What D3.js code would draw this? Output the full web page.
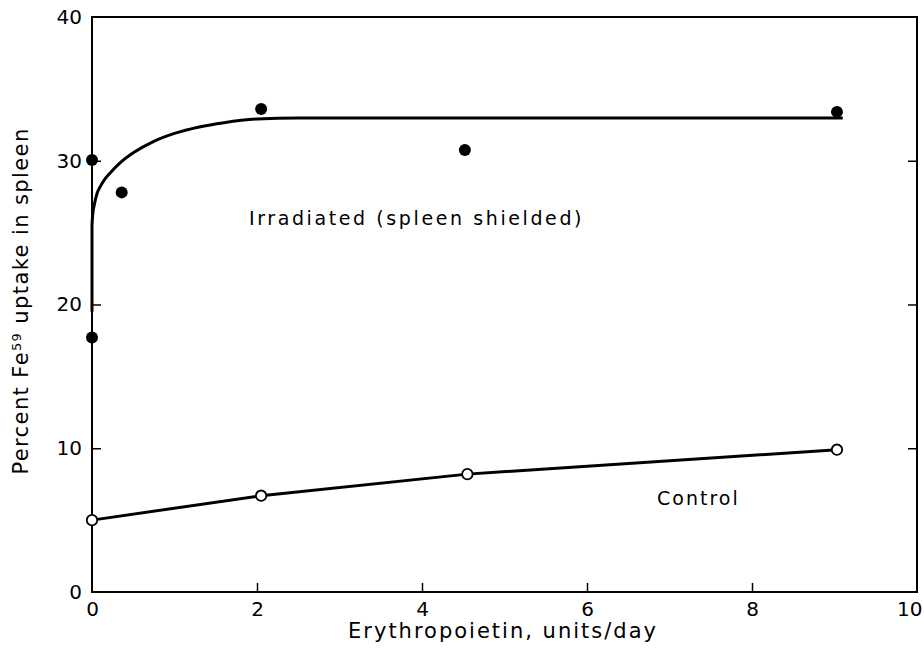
<!DOCTYPE html>
<html>
<head>
<meta charset="utf-8">
<script src="https://cdn.jsdelivr.net/npm/d3@7"></script>
<style>
  html, body { margin: 0; padding: 0; background: #fff; }
  svg text { font-family: "DejaVu Sans", "Open Sans", sans-serif; fill: #000; }
</style>
</head>
<body>
<svg id="chart" width="924" height="660"></svg>
<script>
// ---- data ----
const xTicks = [0, 2, 4, 6, 8, 10];
const yTicks = [0, 10, 20, 30, 40];

const irradiatedX = [0, 0, 0.36, 2.05, 4.52, 9.03];
const irradiatedY = [30.05, 17.7, 27.8, 33.6, 30.75, 33.4];

const controlX = [0, 2.05, 4.55, 9.03];
const controlY = [5.0, 6.7, 8.2, 9.9];

const curveX = [0, 0, 0.01, 0.03, 0.06, 0.1, 0.16, 0.22, 0.34, 0.5, 0.75, 1.0, 1.3, 1.6, 2.0, 2.5, 9.1];
const curveY = [19.5, 25.5, 26.3, 27.0, 27.7, 28.2, 28.75, 29.15, 29.85, 30.55, 31.35, 31.9, 32.35, 32.65, 32.9, 32.98, 32.98];

const xLabel = "Erythropoietin, units/day";
const yLabelMain = "Percent Fe";
const yLabelSup = "59";
const yLabelRest = " uptake in spleen";
const irradiatedLabel = "Irradiated (spleen shielded)";
const controlLabel = "Control";

// ---- layout ----
const svg = d3.select("#chart");
const x = d3.scaleLinear().domain([0, 10]).range([92, 917]);
const y = d3.scaleLinear().domain([0, 40]).range([592, 17]);

// frame
svg.append("rect")
  .attr("x", x(0)).attr("y", y(40))
  .attr("width", x(10) - x(0)).attr("height", y(0) - y(40))
  .attr("fill", "none").attr("stroke", "#000").attr("stroke-width", 2);

// bottom axis: inward ticks
const xAxis = d3.axisBottom(x).tickValues(xTicks).tickSizeInner(-9).tickSizeOuter(0).tickPadding(18).tickFormat(d3.format("d"));
const gx = svg.append("g").attr("transform", `translate(0,${y(0)})`).call(xAxis);
gx.select(".domain").remove();
gx.selectAll(".tick line").attr("stroke", "#000").attr("stroke-width", 1.5)
  .attr("display", d => (d === 0 || d === 10) ? "none" : null);
gx.selectAll(".tick text").attr("font-size", 20).attr("dy", "0.3em")
  .attr("text-anchor", d => d === 10 ? "end" : "middle")
  .attr("dx", d => d === 10 ? 5 : 0);

// left axis: inward ticks
const yAxis = d3.axisLeft(y).tickValues(yTicks).tickSizeInner(-9).tickSizeOuter(0).tickPadding(10).tickFormat(d3.format("d"));
const gy = svg.append("g").attr("transform", `translate(${x(0)},0)`).call(yAxis);
gy.select(".domain").remove();
gy.selectAll(".tick line").attr("stroke", "#000").attr("stroke-width", 1.5)
  .attr("display", d => (d === 0 || d === 40) ? "none" : null);
gy.selectAll(".tick text").attr("font-size", 20);

// right axis: inward ticks, no labels
const yAxisR = d3.axisRight(y).tickValues(yTicks).tickSizeInner(-9).tickSizeOuter(0).tickFormat("");
const gyr = svg.append("g").attr("transform", `translate(${x(10)},0)`).call(yAxisR);
gyr.select(".domain").remove();
gyr.selectAll(".tick line").attr("stroke", "#000").attr("stroke-width", 1.5)
  .attr("display", d => (d === 0 || d === 40) ? "none" : null);

// fitted curve (irradiated)
const curvePts = curveX.map((v, i) => [v, curveY[i]]);
svg.append("path")
  .datum(curvePts)
  .attr("d", d3.line().x(d => x(d[0])).y(d => y(d[1])).curve(d3.curveMonotoneX))
  .attr("fill", "none").attr("stroke", "#000").attr("stroke-width", 3);

// control line
const ctrlPts = controlX.map((v, i) => [v, controlY[i]]);
svg.append("path")
  .datum(ctrlPts)
  .attr("d", d3.line().x(d => x(d[0])).y(d => y(d[1])))
  .attr("fill", "none").attr("stroke", "#000").attr("stroke-width", 3);

// irradiated points (filled)
svg.append("g").selectAll("circle")
  .data(irradiatedX.map((v, i) => [v, irradiatedY[i]]))
  .join("circle")
  .attr("cx", d => x(d[0])).attr("cy", d => y(d[1])).attr("r", 6)
  .attr("fill", "#000");

// control points (open)
svg.append("g").selectAll("circle")
  .data(ctrlPts)
  .join("circle")
  .attr("cx", d => x(d[0])).attr("cy", d => y(d[1])).attr("r", 5.2)
  .attr("fill", "#fff").attr("stroke", "#000").attr("stroke-width", 1.8);

// annotations
svg.append("text").attr("x", 249).attr("y", 225)
  .attr("font-size", 19).attr("letter-spacing", 2.6)
  .text(irradiatedLabel);
svg.append("text").attr("x", 657).attr("y", 505)
  .attr("font-size", 19).attr("letter-spacing", 2.0)
  .text(controlLabel);

// axis titles
svg.append("text").attr("x", 503).attr("y", 638)
  .attr("text-anchor", "middle").attr("font-size", 21).attr("letter-spacing", 2.0)
  .text(xLabel);

const yt = svg.append("text")
  .attr("transform", "translate(28,301) rotate(-90)")
  .attr("text-anchor", "middle").attr("font-size", 21).attr("letter-spacing", 1.4);
yt.append("tspan").text(yLabelMain);
yt.append("tspan").attr("baseline-shift", "super").attr("font-size", 13).text(yLabelSup);
yt.append("tspan").text(yLabelRest);
</script>
</body>
</html>
